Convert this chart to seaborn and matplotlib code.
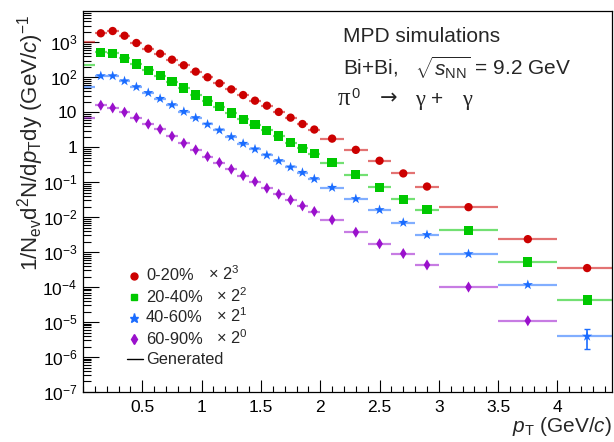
import numpy as np
import pandas as pd
import seaborn as sns
import matplotlib.pyplot as plt
from matplotlib.lines import Line2D
from matplotlib.ticker import FixedLocator, MultipleLocator, LogLocator, FuncFormatter, NullFormatter

sns.set_theme(style='ticks')
plt.rcParams['font.family'] = ['Liberation Sans', 'DejaVu Sans']
plt.rcParams['mathtext.fontset'] = 'custom'
plt.rcParams['mathtext.rm'] = 'Liberation Sans'
plt.rcParams['mathtext.it'] = 'Liberation Sans:italic'
plt.rcParams['mathtext.bf'] = 'Liberation Sans:bold'

# pT bin edges (GeV/c)
bin_edges = [0.1, 0.2, 0.3, 0.4, 0.5, 0.6, 0.7, 0.8, 0.9, 1.0, 1.1, 1.2, 1.3, 1.4,
             1.5, 1.6, 1.7, 1.8, 1.9, 2.0, 2.2, 2.4, 2.6, 2.8, 3.0, 3.5, 4.0, 4.5]

# spectra as drawn (already multiplied by 2^n)
c0_20 = [1810, 2100, 1540, 955, 656, 472, 318, 220, 145, 100, 67, 45, 31, 21.4,
         15.4, 10.2, 7.0, 4.6, 3.2, 1.76, 0.84, 0.41, 0.178, 0.075, 0.0193, 0.00235, 0.00035]
c20_40 = [518, 485, 349, 240, 158, 111, 75, 49, 31, 21, 14.5, 9.5, 6.3, 4.4,
          3.06, 2.1, 1.35, 0.94, 0.66, 0.363, 0.165, 0.072, 0.0327, 0.0162, 0.00425, 0.00052, 4.3e-5]
c40_60 = [109, 109, 78, 53, 36, 24.5, 16.2, 10.4, 6.9, 4.5, 3.06, 1.97, 1.27, 0.88,
          0.59, 0.406, 0.268, 0.188, 0.124, 0.070, 0.0333, 0.0162, 0.0070, 0.00312, 8.9e-4, 1.16e-4, 3.9e-6]
c60_90 = [15.8, 13.3, 10.0, 7.0, 4.6, 3.27, 2.06, 1.3, 0.84, 0.54, 0.363, 0.235, 0.154, 0.104,
          0.0674, 0.0454, 0.0312, 0.021, 0.0145, 0.0084, 0.0037, 1.73e-3, 9.1e-4, 4.3e-4, 1.0e-4, 1.09e-5, np.nan]

# generated spectrum in the first bin (0 - 0.1 GeV/c)
gen_first = [1000, 220, 52, 7]

# the only visible vertical error bar
err_pt = [4.25]
err_lo = [1.7e-6]
err_hi = [6.3e-6]

names = ['0-20%', '20-40%', '40-60%', '60-90%']
powers = [3, 2, 1, 0]
colors = {'0-20%': '#cc0000', '20-40%': '#00c800', '40-60%': '#1a6cff', '60-90%': '#9a10cc'}
markers = {'0-20%': 'o', '20-40%': 's', '40-60%': '*', '60-90%': 'd'}
sizes = {'0-20%': 36, '20-40%': 44, '40-60%': 60, '60-90%': 32}

edges = np.array(bin_edges)
centers = (edges[:-1] + edges[1:]) / 2

frames = []
for name, vals in zip(names, [c0_20, c20_40, c40_60, c60_90]):
    frames.append(pd.DataFrame({'pt': centers, 'val': vals, 'lo': edges[:-1],
                                'hi': edges[1:], 'series': name}))
df = pd.concat(frames, ignore_index=True).dropna()

W, H = 614, 442
fig = plt.figure(figsize=(W / 100, H / 100), dpi=100)
ax = fig.add_axes([0.1352, 0.1131, 0.8616, 0.862])

# generated lines / bin widths
for name, g in df.groupby('series', sort=False):
    ax.hlines(g['val'], g['lo'], g['hi'], color=colors[name], lw=1.6, alpha=0.55, zorder=2)
for name, v in zip(names, gen_first):
    ax.hlines(v, 0.0, 0.1, color=colors[name], lw=1.6, alpha=0.55, zorder=2)

sns.scatterplot(data=df, x='pt', y='val', hue='series', style='series', size='series',
                palette=colors, markers=markers, sizes=sizes, edgecolor='none',
                legend=False, ax=ax, zorder=3)
ax.errorbar(err_pt, [c40_60[-1]], yerr=[[c40_60[-1] - err_lo[0]], [err_hi[0] - c40_60[-1]]],
            fmt='none', ecolor=colors['40-60%'], elinewidth=1.2, capsize=2.5, zorder=3)

ax.set_yscale('log')
ax.set_xlim(0.0, 4.46)
ax.set_ylim(1e-7, 7840)

ax.xaxis.set_major_locator(FixedLocator([0.5, 1, 1.5, 2, 2.5, 3, 3.5, 4]))
ax.xaxis.set_minor_locator(MultipleLocator(0.1))
ax.xaxis.set_major_formatter(FuncFormatter(lambda v, p: '%g' % v))


def ylab(v, p):
    e = int(round(np.log10(v)))
    if e == 0:
        return '1'
    if e == 1:
        return '10'
    return r'$10^{%d}$' % e


ax.yaxis.set_major_locator(LogLocator(base=10, numticks=20))
ax.yaxis.set_minor_locator(LogLocator(base=10, subs=np.arange(2, 10), numticks=20))
ax.yaxis.set_major_formatter(FuncFormatter(ylab))
ax.yaxis.set_minor_formatter(NullFormatter())

ax.tick_params(axis='both', which='both', direction='in', top=False, right=False,
               colors='black', labelsize=12.5, width=0.8)
ax.tick_params(axis='x', which='major', length=8.5, pad=6)
ax.tick_params(axis='x', which='minor', length=4.3)
ax.tick_params(axis='y', which='major', length=11.5, pad=4)
ax.tick_params(axis='y', which='minor', length=5.8)
for sp in ax.spines.values():
    sp.set_color('black')
    sp.set_linewidth(0.9)

ax.set_xlabel(r'$p_{\rm T}$ (GeV/$c$)', fontsize=15, loc='right', labelpad=0)
ax.set_ylabel(r'1/N$_{\rm ev}$d$^{2}$N/d$p_{\rm T}$dy (GeV/$c$)$^{-1}$', fontsize=16, loc='top')
ax.yaxis.set_label_coords(-0.07, 0.99)

fig.text(0.558, 0.905, 'MPD simulations', fontsize=15, va='baseline')
fig.text(0.558, 0.830, r'Bi+Bi,   $\sqrt{s_{\rm NN}}$ = 9.2 GeV', fontsize=15, va='baseline')

# pi0 -> gamma + gamma, placed piece by piece like the reference
base = 1 - 105 / H
serif = ['Liberation Serif', 'DejaVu Serif']
fig.text(338 / W, base, '\u03c0', fontsize=18, family=serif, va='baseline')
fig.text(351 / W, base + 7 / H, '0', fontsize=10.5, va='baseline')
fig.text(380 / W, base + 1 / H, '\u2192', fontsize=15, family=['DejaVu Sans'], va='baseline')
fig.text(415 / W, base, '\u03b3', fontsize=16, family=serif, va='baseline')
fig.text(431 / W, base, '+', fontsize=15, va='baseline')
fig.text(462 / W, base, '\u03b3', fontsize=16, family=serif, va='baseline')

# legend, drawn row by row so the rows are evenly spaced
row_y = [276, 297, 318, 339, 359]
for i, (n, p) in enumerate(zip(names, powers)):
    y = 1 - row_y[i] / H
    fig.add_artist(Line2D([134 / W], [y], ls='none', marker=markers[n], color=colors[n],
                          markersize=5 if n != '40-60%' else 6.5, transform=fig.transFigure))
    fig.text(146 / W, 1 - (row_y[i] + 4.5) / H, n, fontsize=11.8, va='baseline')
    fig.text((208 if i == 0 else 216) / W, 1 - (row_y[i] + 4.5) / H,
             r'$\times\ 2^{%d}$' % p, fontsize=11.8, va='baseline')
fig.add_artist(Line2D([127 / W, 143 / W], [1 - row_y[4] / H] * 2, color='black', lw=1,
                      transform=fig.transFigure))
fig.text(146 / W, 1 - (row_y[4] + 4.5) / H, 'Generated', fontsize=11.8, va='baseline')

plt.savefig('out.png', dpi=100)
